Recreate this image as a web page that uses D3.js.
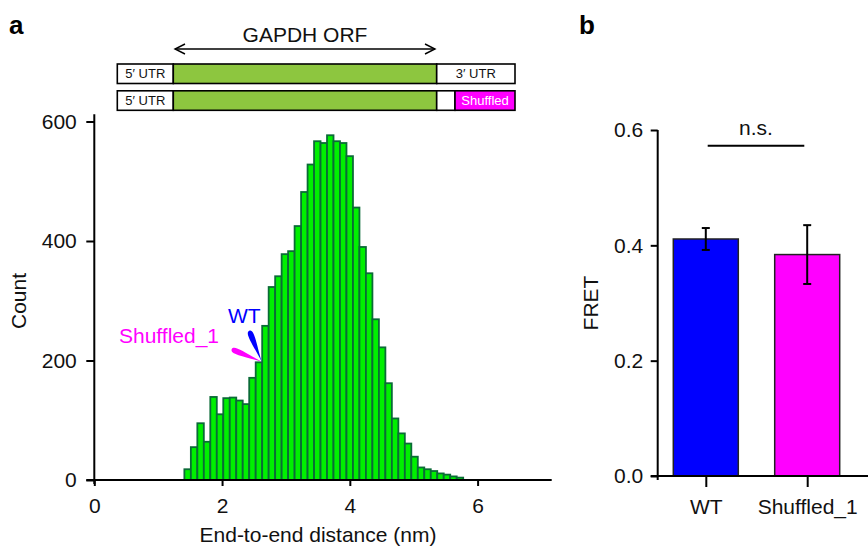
<!DOCTYPE html>
<html>
<head>
<meta charset="utf-8">
<script src="https://cdn.jsdelivr.net/npm/d3@7"></script>
<style>
  body { margin: 0; background: #fff; }
  svg { display: block; font-family: "Liberation Sans", Arial, Helvetica, sans-serif; }
</style>
</head>
<body>
<svg id="fig" width="868" height="549"></svg>
<script>
// panel a: histogram of end-to-end distance
const binStart = 1.41;
const binWidth = 0.1015;
const counts = [18, 55, 95, 64, 139, 110, 137, 138, 133, 127, 171, 197, 258, 323, 341, 378, 383, 425, 482, 528,
  567, 564, 577, 567, 564, 542, 456, 390, 346, 269, 222, 162, 103, 78, 61, 39, 21, 18, 15, 11, 9, 6, 4];
const xTicksA = [0, 2, 4, 6];
const yTicksA = [0, 200, 400, 600];
// WT / Shuffled_1 markers on the histogram
const markX = 2.62;
const markY = 198;

// panel b: FRET bars
const groups = ['WT', 'Shuffled_1'];
const fret = [0.411, 0.384];
const fretLo = [0.392, 0.333];
const fretHi = [0.430, 0.435];
const yTicksB = [0, 0.2, 0.4, 0.6];

const FONT = 21;
const svg = d3.select('#fig');

// ---------- panel a ----------
const X_A = d3.scaleLinear().domain([0, 7.16]).range([94.3, 551.7]);
const Y_A = d3.scaleLinear().domain([0, 600]).range([480, 121.5]);

const bins = counts.map((c, i) => ({ x0: binStart + i * binWidth, x1: binStart + (i + 1) * binWidth, c }));

svg.append('g')
  .selectAll('rect')
  .data(bins)
  .join('rect')
  .attr('x', d => X_A(d.x0))
  .attr('y', d => Y_A(d.c))
  .attr('width', d => X_A(d.x1) - X_A(d.x0))
  .attr('height', d => Y_A(0) - Y_A(d.c))
  .attr('fill', '#00f000')
  .attr('stroke', '#0b6b37')
  .attr('stroke-width', 1.8);

const axYA = svg.append('g')
  .attr('transform', `translate(${X_A(0)},0)`)
  .call(d3.axisLeft(Y_A).tickValues(yTicksA).tickSize(8).tickPadding(9.5).tickSizeOuter(0));
const axXA = svg.append('g')
  .attr('transform', `translate(0,${Y_A(0)})`)
  .call(d3.axisBottom(X_A).tickValues(xTicksA).tickSize(6).tickPadding(12).tickSizeOuter(0));

[axYA, axXA].forEach(ax => {
  ax.select('.domain').remove();
  ax.selectAll('line').attr('stroke', '#000').attr('stroke-width', 2);
  ax.selectAll('text').attr('font-size', FONT).attr('fill', '#111').style('font-family', 'inherit');
});

svg.append('line')
  .attr('x1', X_A(0)).attr('x2', X_A(0))
  .attr('y1', Y_A(612)).attr('y2', Y_A(0) + 4)
  .attr('stroke', '#000').attr('stroke-width', 2);
svg.append('line')
  .attr('x1', X_A(0) - 8).attr('x2', X_A(7.16))
  .attr('y1', Y_A(0)).attr('y2', Y_A(0))
  .attr('stroke', '#000').attr('stroke-width', 2);

svg.append('text')
  .text('End-to-end distance (nm)')
  .attr('x', 318).attr('y', 542)
  .attr('text-anchor', 'middle')
  .attr('font-size', FONT).attr('fill', '#111');
svg.append('text')
  .text('Count')
  .attr('transform', 'translate(26,301) rotate(-90)')
  .attr('text-anchor', 'middle')
  .attr('font-size', FONT).attr('fill', '#111');

// leaf-shaped pointers
function leaf(len, w) {
  return `M0,0 C${len * 0.55},${-w * 0.2} ${len},${-w * 0.7} ${len},0 C${len},${w * 0.7} ${len * 0.55},${w * 0.2} 0,0 Z`;
}
const px = X_A(markX), py = Y_A(markY);
const pointers = [
  { dx: -12.4, dy: -31, color: '#0000ff' },
  { dx: -30, dy: -12.4, color: '#ff00ff' }
];
pointers.forEach(p => {
  const len = Math.hypot(p.dx, p.dy);
  const ang = Math.atan2(p.dy, p.dx) * 180 / Math.PI;
  svg.append('path')
    .attr('d', leaf(len, 8))
    .attr('transform', `translate(${px},${py}) rotate(${ang})`)
    .attr('fill', p.color);
});
svg.append('text').text('WT')
  .attr('x', 228).attr('y', 323)
  .attr('font-size', FONT).attr('fill', '#0000ff');
svg.append('text').text('Shuffled_1')
  .attr('x', 119).attr('y', 343)
  .attr('font-size', FONT).attr('fill', '#ff00ff');

// ---------- construct schematic ----------
const rows = [
  [
    { x0: 117.3, x1: 173.3, fill: '#fff', label: '5\u2032 UTR', color: '#111' },
    { x0: 173.3, x1: 436.7, fill: '#8dc63f', label: '', color: '#111' },
    { x0: 436.7, x1: 515, fill: '#fff', label: '3\u2032 UTR', color: '#111' }
  ],
  [
    { x0: 117.3, x1: 173.3, fill: '#fff', label: '5\u2032 UTR', color: '#111' },
    { x0: 173.3, x1: 436.7, fill: '#8dc63f', label: '', color: '#111' },
    { x0: 436.7, x1: 455, fill: '#fff', label: '', color: '#111' },
    { x0: 455, x1: 515, fill: '#ff00ff', label: 'Shuffled', color: '#fff' }
  ]
];
const rowY = [64, 90.8];
const rowH = 19.5;
rows.forEach((segs, r) => {
  const g = svg.append('g');
  g.selectAll('rect')
    .data(segs)
    .join('rect')
    .attr('x', d => d.x0).attr('y', rowY[r])
    .attr('width', d => d.x1 - d.x0).attr('height', rowH)
    .attr('fill', d => d.fill)
    .attr('stroke', '#000').attr('stroke-width', 1.6);
  g.selectAll('text')
    .data(segs.filter(d => d.label))
    .join('text')
    .text(d => d.label)
    .attr('x', d => (d.x0 + d.x1) / 2)
    .attr('y', rowY[r] + rowH / 2 + 4.7)
    .attr('text-anchor', 'middle')
    .attr('font-size', 13)
    .attr('fill', d => d.color);
});

// double arrow for ORF
const arrY = 49, arrL = 175, arrR = 435;
svg.append('line')
  .attr('x1', arrL).attr('x2', arrR).attr('y1', arrY).attr('y2', arrY)
  .attr('stroke', '#000').attr('stroke-width', 1.4);
svg.append('path')
  .attr('d', `M${arrL + 10},${arrY - 5} L${arrL},${arrY} L${arrL + 10},${arrY + 5} M${arrR - 10},${arrY - 5} L${arrR},${arrY} L${arrR - 10},${arrY + 5}`)
  .attr('fill', 'none').attr('stroke', '#000').attr('stroke-width', 1.4);
svg.append('text').text('GAPDH ORF')
  .attr('x', 305).attr('y', 41.5)
  .attr('text-anchor', 'middle')
  .attr('font-size', 21).attr('fill', '#111');

// ---------- panel b ----------
const X_B = d3.scalePoint().domain(groups).range([705.8, 807.2]);
const Y_B = d3.scaleLinear().domain([0, 0.6]).range([476, 130]);
const BAR_W = 65;
const barColors = ['#0000ff', '#ff00ff'];

svg.append('g')
  .selectAll('rect')
  .data(groups)
  .join('rect')
  .attr('x', d => X_B(d) - BAR_W / 2)
  .attr('y', (d, i) => Y_B(fret[i]))
  .attr('width', BAR_W)
  .attr('height', (d, i) => Y_B(0) - Y_B(fret[i]))
  .attr('fill', (d, i) => barColors[i])
  .attr('stroke', '#222').attr('stroke-width', 1.5);

const err = svg.append('g').attr('stroke', '#000').attr('stroke-width', 2);
groups.forEach((g, i) => {
  const cx = X_B(g);
  err.append('line').attr('x1', cx).attr('x2', cx).attr('y1', Y_B(fretHi[i])).attr('y2', Y_B(fretLo[i]));
  err.append('line').attr('x1', cx - 4).attr('x2', cx + 4).attr('y1', Y_B(fretHi[i])).attr('y2', Y_B(fretHi[i]));
  err.append('line').attr('x1', cx - 4).attr('x2', cx + 4).attr('y1', Y_B(fretLo[i])).attr('y2', Y_B(fretLo[i]));
});

const axYB = svg.append('g')
  .attr('transform', 'translate(657.7,0)')
  .call(d3.axisLeft(Y_B).tickValues(yTicksB).tickFormat(d3.format('.1f')).tickSize(7).tickPadding(7.5).tickSizeOuter(0));
const axXB = svg.append('g')
  .attr('transform', `translate(0,${Y_B(0)})`)
  .call(d3.axisBottom(X_B).tickSize(11).tickPadding(12).tickSizeOuter(0));
[axYB, axXB].forEach(ax => {
  ax.select('.domain').remove();
  ax.selectAll('line').attr('stroke', '#000').attr('stroke-width', 2);
  ax.selectAll('text').attr('font-size', FONT).attr('fill', '#111').style('font-family', 'inherit');
});
svg.append('line')
  .attr('x1', 657.7).attr('x2', 657.7)
  .attr('y1', Y_B(0.6)).attr('y2', Y_B(0) + 4)
  .attr('stroke', '#000').attr('stroke-width', 2);
svg.append('line')
  .attr('x1', 650.7).attr('x2', 868)
  .attr('y1', Y_B(0)).attr('y2', Y_B(0))
  .attr('stroke', '#000').attr('stroke-width', 2);

svg.append('text')
  .text('FRET')
  .attr('transform', 'translate(598,303) rotate(-90)')
  .attr('text-anchor', 'middle')
  .attr('font-size', FONT).attr('fill', '#111');

// significance bracket
svg.append('line')
  .attr('x1', 707.7).attr('x2', 804.3)
  .attr('y1', 145.7).attr('y2', 145.7)
  .attr('stroke', '#000').attr('stroke-width', 2);
svg.append('text').text('n.s.')
  .attr('x', 756).attr('y', 135)
  .attr('text-anchor', 'middle')
  .attr('font-size', FONT).attr('fill', '#111');

// panel letters
svg.append('text').text('a')
  .attr('x', 9).attr('y', 34)
  .attr('font-size', 26).attr('font-weight', 'bold');
svg.append('text').text('b')
  .attr('x', 579).attr('y', 34)
  .attr('font-size', 26).attr('font-weight', 'bold');
</script>
</body>
</html>
